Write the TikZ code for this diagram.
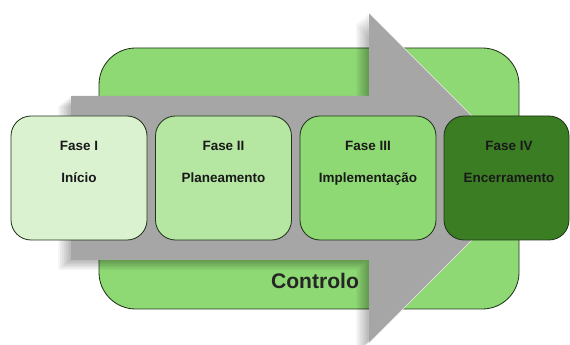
\documentclass[tikz,border=0pt]{standalone}
\usepackage{fontspec}
\setmainfont{Liberation Sans}
\usetikzlibrary{positioning}

\definecolor{verdefundo}{HTML}{8ED973}
\definecolor{verdeI}{HTML}{DAF2D0}
\definecolor{verdeII}{HTML}{B5E6A2}
\definecolor{verdeIII}{HTML}{8ED973}
\definecolor{verdeIV}{HTML}{3B7D23}
\definecolor{borda}{HTML}{1F3319}
\definecolor{cinzaseta}{HTML}{A6A6A6}

\begin{document}
\begin{tikzpicture}[x=0.3mm, y=-0.3mm,
	fase/.style={draw=borda, line width=0.7pt, rounded corners=6mm, inner sep=0pt, minimum width=40.8mm, minimum height=37.2mm},
	rotulo/.style={font=\bfseries\fontsize{11.5}{13}\selectfont, text=black!90, anchor=base}]
	\useasboundingbox (0,0) rectangle (570,345);
	% fundo: controlo
	\draw[draw=borda, line width=0.7pt, fill=verdefundo, rounded corners=11mm] (99,48) rectangle (519,309);
	\node[font=\bfseries\fontsize{18}{20}\selectfont, text=black!85, anchor=base] (controlo) at (315,289) {Controlo};
	% seta com sombra
	\foreach \i in {1,...,7}
	  \fill[black, opacity=0.045, shift={(-1.8*\i,1.4*\i)}] (71,96) -- (369,96) -- (369,13) -- (534,178) -- (369,343) -- (369,260) -- (71,260) -- cycle;
	\fill[cinzaseta] (71,96) -- (369,96) -- (369,13) -- (534,178) -- (369,343) -- (369,260) -- (71,260) -- cycle;
	\draw[white!85!gray, line width=0.5pt] (369,13) -- (534,178) -- (369,343);
	% fases
	\node[fase, fill=verdeI] (f1) at (79,178) {};
	\node[rotulo] (t1) at (79,151) {Fase I};
	\node[rotulo] (n1) at (79,183) {Início};
	\node[fase, fill=verdeII] (f2) at (223.5,178) {};
	\node[rotulo] (t2) at (223.5,151) {Fase II};
	\node[rotulo] (n2) at (223.5,183) {Planeamento};
	\node[fase, fill=verdeIII] (f3) at (368,178) {};
	\node[rotulo] (t3) at (368,151) {Fase III};
	\node[rotulo] (n3) at (368,183) {Implementação};
	\node[fase, fill=verdeIV, minimum width=37.5mm] (f4) at (506.5,178) {};
	\node[rotulo] (t4) at (509,151) {Fase IV};
	\node[rotulo] (n4) at (509,183) {Encerramento};
\end{tikzpicture}
\end{document}
